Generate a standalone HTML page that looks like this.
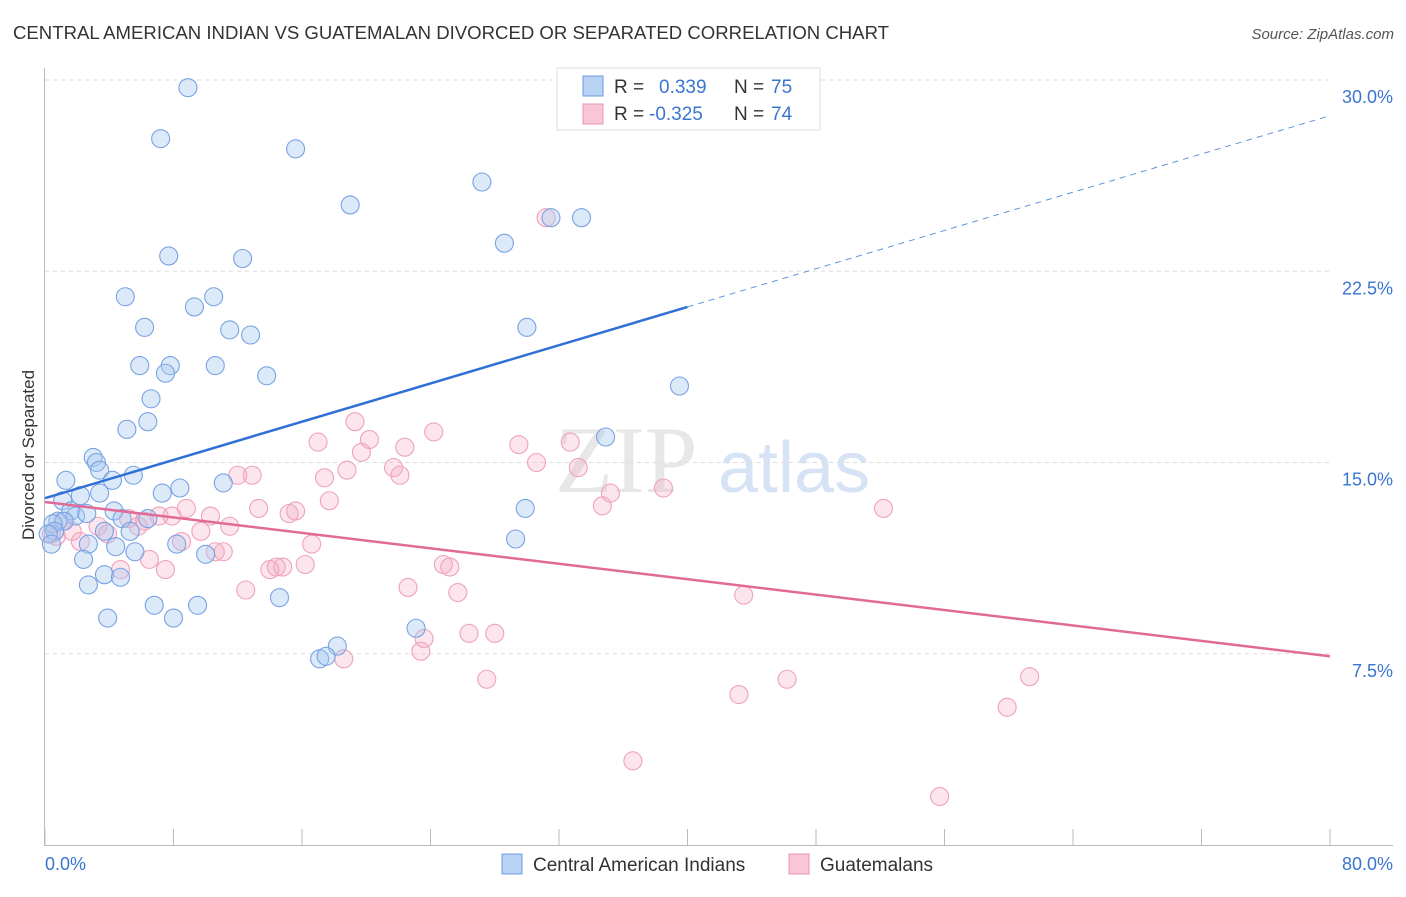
<!DOCTYPE html>
<html><head><meta charset="utf-8"><style>
body{margin:0;background:#fff;font-family:"Liberation Sans",sans-serif}
</style></head><body>
<svg id="c" width="1406" height="892" xmlns="http://www.w3.org/2000/svg">
<text x="13" y="39" font-size="18" fill="#333" textLength="876" lengthAdjust="spacingAndGlyphs">CENTRAL AMERICAN INDIAN VS GUATEMALAN DIVORCED OR SEPARATED CORRELATION CHART</text>
<text x="1394" y="39" font-size="15" fill="#555" font-style="italic" text-anchor="end">Source: ZipAtlas.com</text>
<text x="34" y="455" font-size="17" fill="#333" text-anchor="middle" transform="rotate(-90 34 455)">Divorced or Separated</text>
<g id="wm"><text x="555" y="492" font-size="95" font-family="Liberation Serif" fill="#ddd" opacity="0.7">ZIP</text><text x="718" y="492" font-size="72" fill="#c5d8f0" opacity="0.7">atlas</text></g>
<g id="grid"></g><g id="pts"></g><g id="lines"></g>
<g>
<rect x="557" y="68" width="263" height="62" fill="#fff" stroke="#ddd"/>
<rect x="583" y="76" width="20" height="20" fill="#b8d2f4" stroke="#6d9ae0"/>
<rect x="583" y="104" width="20" height="20" fill="#f9c6d6" stroke="#e894b0"/>
<text x="614" y="93" font-size="19" fill="#333">R =</text><text x="659" y="93" font-size="19" fill="#3a75d0">0.339</text><text x="734" y="93" font-size="19" fill="#333">N =</text><text x="771" y="93" font-size="19" fill="#3a75d0">75</text>
<text x="614" y="120" font-size="19" fill="#333">R =</text><text x="649" y="120" font-size="19" fill="#3a75d0">-0.325</text><text x="734" y="120" font-size="19" fill="#333">N =</text><text x="771" y="120" font-size="19" fill="#3a75d0">74</text>
</g>
<g>
<rect x="502" y="854" width="20" height="20" fill="#b8d2f4" stroke="#6d9ae0"/>
<text x="533" y="871" font-size="19" fill="#333">Central American Indians</text>
<rect x="789" y="854" width="20" height="20" fill="#f9c6d6" stroke="#e894b0"/>
<text x="820" y="871" font-size="19" fill="#333">Guatemalans</text>
</g>
</svg>
<script>
const yTicks=[7.5,15,22.5,30];
const yTickLabels=["7.5%","15.0%","22.5%","30.0%"];
const xTicks=[0,8,16,24,32,40,48,56,64,72,80];
const blueX=[8.9,7.2,15.6,27.2,19.0,31.5,33.4,28.6,7.7,12.3,5.0,10.5,9.3,6.2,11.5,12.8,30.0,5.9,7.8,10.6,7.5,13.8,39.5,6.6,6.4,5.1,34.9,3.0,3.2,3.4,4.2,5.5,1.3,11.1,8.4,7.3,2.2,3.4,1.1,29.9,1.6,1.9,4.3,2.6,4.8,6.4,0.8,1.2,0.5,0.6,5.3,3.7,0.2,29.3,2.7,8.2,0.4,4.4,5.6,10.0,2.4,3.7,4.7,2.7,6.8,9.5,14.6,3.9,8.0,23.1,18.2,17.1,17.5];
const blueY=[29.7,27.7,27.3,26.0,25.1,24.6,24.6,23.6,23.1,23.0,21.5,21.5,21.1,20.3,20.2,20.0,20.3,18.8,18.8,18.8,18.5,18.4,18.0,17.5,16.6,16.3,16.0,15.2,15.0,14.7,14.3,14.5,14.3,14.2,14.0,13.8,13.7,13.8,13.5,13.2,13.1,12.9,13.1,13.0,12.8,12.8,12.7,12.7,12.6,12.3,12.3,12.3,12.2,12.0,11.8,11.8,11.8,11.7,11.5,11.4,11.2,10.6,10.5,10.2,9.4,9.4,9.7,8.9,8.9,8.5,7.8,7.3,7.4];
const pinkX=[31.2,19.3,24.2,20.2,17.0,22.4,29.5,32.7,19.7,30.6,33.2,18.8,21.7,22.1,12.0,12.9,17.4,38.5,35.2,17.7,34.7,52.2,13.3,8.8,15.6,15.2,10.3,7.1,7.9,5.2,6.2,3.3,5.8,11.5,9.7,1.7,3.9,0.7,2.2,8.5,16.6,10.6,11.1,6.5,7.5,4.7,16.2,14.4,14.8,14.0,24.8,25.2,12.5,22.6,25.7,43.5,23.6,26.4,28.0,23.4,18.6,27.5,46.2,61.3,43.2,59.9,36.6,55.7,1.1,0.4];
const pinkY=[24.6,16.6,16.2,15.9,15.8,15.6,15.7,15.8,15.4,15.0,14.8,14.7,14.8,14.5,14.5,14.5,14.4,14.0,13.8,13.5,13.3,13.2,13.2,13.2,13.1,13.0,12.9,12.9,12.9,12.8,12.7,12.5,12.5,12.5,12.3,12.3,12.2,12.1,11.9,11.9,11.8,11.5,11.5,11.2,10.8,10.8,11.0,10.9,10.9,10.8,11.0,10.9,10.0,10.1,9.9,9.8,8.1,8.3,8.3,7.6,7.3,6.5,6.5,6.6,5.9,5.4,3.3,1.9,12.7,12.2];
const blueTrend=[13.6,28.6]; const pinkTrend=[13.45,7.4];
const X=v=>45+v*(1285/80), Y=v=>845-v*(765/30);
const NS="http://www.w3.org/2000/svg";
function mk(t,a,p){const e=document.createElementNS(NS,t);for(const k in a)e.setAttribute(k,a[k]);p.appendChild(e);return e;}
const g=document.getElementById('grid');
yTicks.forEach((t,i)=>{
 const l=mk('line',{x1:45,x2:1330,y1:Y(t),y2:Y(t),stroke:'#ddd','stroke-dasharray':'4 4'},g);
 
 
 const tx=mk('text',{x:1393,y:Y(t)+23,'font-size':18,fill:'#3a75d0','text-anchor':'end'},g);tx.textContent=yTickLabels[i];
 
 
});
const ax=mk('line',{x1:44.5,x2:44.5,y1:68,y2:846,stroke:'#bbb'},g);


const bx=mk('line',{x1:44,x2:1393,y1:845.5,y2:845.5,stroke:'#bbb'},g);


xTicks.forEach(t=>{const l=mk('line',{x1:X(t),x2:X(t),y1:829,y2:846,stroke:'#bbb'},g);
 
 });
let t1=mk('text',{x:45,y:870,'font-size':18,fill:'#3a75d0'},g);t1.textContent='0.0%';


let t2=mk('text',{x:1393,y:870,'font-size':18,fill:'#3a75d0','text-anchor':'end'},g);t2.textContent='80.0%';


const p=document.getElementById('pts');
pinkX.forEach((x,i)=>{const c=mk('circle',{cx:X(x),cy:Y(pinkY[i]),r:9,fill:'rgba(245,170,195,0.3)',stroke:'#eea2bc','stroke-width':1.1},p);
 
 });
blueX.forEach((x,i)=>{const c=mk('circle',{cx:X(x),cy:Y(blueY[i]),r:9,fill:'rgba(168,200,240,0.4)',stroke:'#78a3e2','stroke-width':1.1},p);
 
 });
const L=document.getElementById('lines');
const by=v=>blueTrend[0]+(blueTrend[1]-blueTrend[0])*v/80;
let b1=mk('line',{x1:X(0),y1:Y(by(0)),x2:X(40),y2:Y(by(40)),stroke:'#2f6fd6','stroke-width':2.5},L);


let b2=mk('line',{x1:X(40),y1:Y(by(40)),x2:X(80),y2:Y(by(80)),stroke:'#5f93dc','stroke-width':1,'stroke-dasharray':'6 5'},L);


let p1=mk('line',{x1:X(0),y1:Y(pinkTrend[0]),x2:X(80),y2:Y(pinkTrend[1]),stroke:'#e26a96','stroke-width':2.5},L);


</script>
</body></html>
